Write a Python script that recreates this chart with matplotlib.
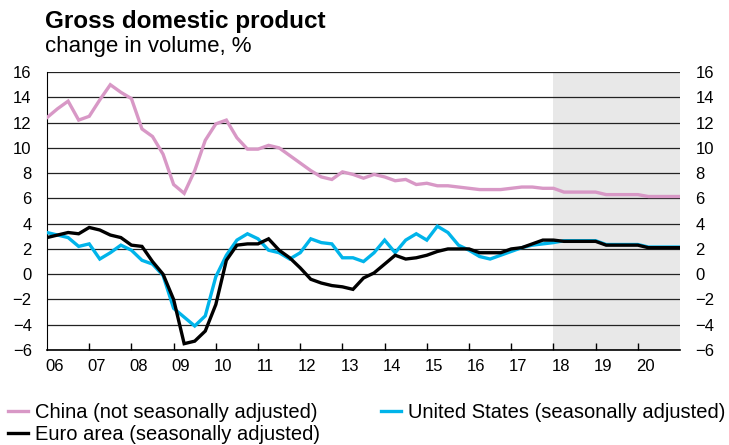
import numpy as np
import matplotlib
matplotlib.use('Agg')
import matplotlib.pyplot as plt

plt.rcParams['font.family'] = ['Liberation Sans', 'DejaVu Sans']

# quarterly, 2006Q1 .. 2021Q1 (forecast from 2018)
china = [12.4, 13.1, 13.7, 12.2, 12.5, 13.8, 15.0, 14.4, 13.9, 11.5,
         10.9, 9.5, 7.1, 6.4, 8.2, 10.6, 11.9, 12.2, 10.8, 9.9,
         9.9, 10.2, 10.0, 9.4, 8.8, 8.2, 7.7, 7.5, 8.1, 7.9,
         7.6, 7.9, 7.7, 7.4, 7.5, 7.1, 7.2, 7.0, 7.0, 6.9,
         6.8, 6.7, 6.7, 6.7, 6.8, 6.9, 6.9, 6.8, 6.8, 6.5,
         6.5, 6.5, 6.5, 6.3, 6.3, 6.3, 6.3, 6.15, 6.15, 6.15, 6.15]
usa = [3.3, 3.1, 2.9, 2.2, 2.4, 1.2, 1.7, 2.3, 1.9, 1.1,
       0.8, -0.1, -2.7, -3.4, -4.1, -3.3, -0.2, 1.5, 2.7, 3.2,
       2.8, 1.9, 1.7, 1.2, 1.7, 2.8, 2.5, 2.4, 1.3, 1.3,
       1.0, 1.7, 2.7, 1.7, 2.7, 3.2, 2.7, 3.8, 3.3, 2.3,
       1.9, 1.4, 1.2, 1.5, 1.8, 2.1, 2.3, 2.4, 2.5, 2.65,
       2.65, 2.65, 2.65, 2.35, 2.35, 2.35, 2.35, 2.15, 2.15, 2.15, 2.15]
euro = [2.9, 3.1, 3.3, 3.2, 3.7, 3.5, 3.1, 2.9, 2.3, 2.2,
        1.0, 0.0, -2.0, -5.5, -5.3, -4.5, -2.4, 1.1, 2.3, 2.4,
        2.4, 2.8, 1.9, 1.3, 0.5, -0.4, -0.7, -0.9, -1.0, -1.2,
        -0.3, 0.1, 0.8, 1.5, 1.2, 1.3, 1.5, 1.8, 2.0, 2.0,
        2.0, 1.7, 1.7, 1.7, 2.0, 2.1, 2.4, 2.7, 2.7, 2.6,
        2.6, 2.6, 2.6, 2.3, 2.3, 2.3, 2.3, 2.1, 2.1, 2.1, 2.1]
years = list(range(2006, 2021))
year_labels = ['%02d' % (y % 100) for y in years]
forecast_start = 2018

x = 2006 + np.arange(len(china)) / 4

fig = plt.figure(figsize=(7.29, 4.45), dpi=100)
ax = fig.add_axes([0.0645, 0.2135, 0.8683, 0.6245])

ax.axvspan(forecast_start, 2021, color='#e8e8e8', zorder=0, lw=0)
for v in range(-6, 17, 2):
    ax.axhline(v, color='#222222', lw=0.9, zorder=1)

l1, = ax.plot(x, china, color='#d898c6', lw=2.4, zorder=3, solid_joinstyle='miter')
l2, = ax.plot(x, usa, color='#00b4ea', lw=2.4, zorder=3, solid_joinstyle='miter')
l3, = ax.plot(x, euro, color='black', lw=2.4, zorder=4, solid_joinstyle='miter')

ax.set_xlim(2006, 2021)
ax.set_ylim(-6, 16)
ax.set_yticks(range(-6, 17, 2))
ax.tick_params(axis='y', length=0, labelsize=12, labelright=True, pad=11)
ax.set_xticks(range(2007, 2021))
ax.set_xticklabels([])
ax.tick_params(axis='x', direction='in', length=5, width=1, color='black')
for y, lab in zip(years, year_labels):
    ax.text(y + 0.17, -6.75, lab, ha='center', va='top', fontsize=12)

for s in ['top', 'right']:
    ax.spines[s].set_visible(False)
ax.spines['left'].set_color('black')
ax.spines['bottom'].set_color('black')
ax.spines['bottom'].set_linewidth(1.2)

fig.text(0.062, 0.938, 'Gross domestic product', fontsize=17.5, fontweight='bold')
fig.text(0.062, 0.883, 'change in volume, %', fontsize=16)

fig.legend([l1, l3, l2],
           ['China (not seasonally adjusted)', 'Euro area (seasonally adjusted)',
            'United States (seasonally adjusted)'],
           ncol=2, loc='upper left', bbox_to_anchor=(0.0055, 0.104),
           frameon=False, fontsize=14.5, handlelength=1.0, handletextpad=0.35,
           columnspacing=3.0, labelspacing=0.15, borderpad=0.2, borderaxespad=0)

fig.savefig('out.png', dpi=100)
